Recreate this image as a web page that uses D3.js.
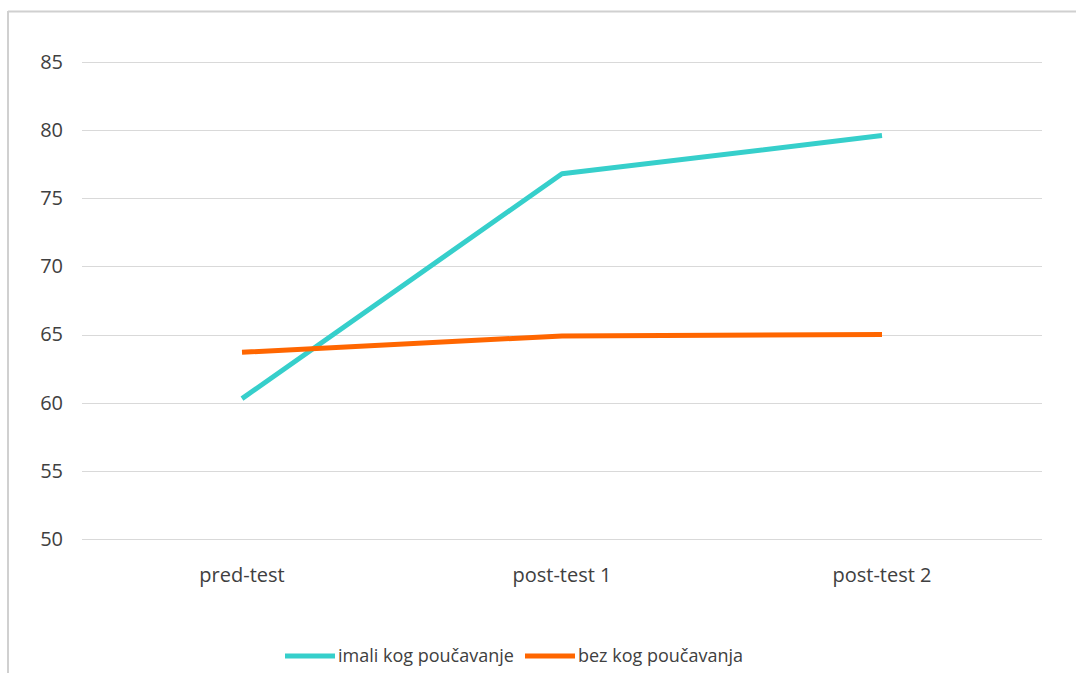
<!DOCTYPE html>
<html>
<head>
<meta charset="utf-8">
<script src="https://cdn.jsdelivr.net/npm/d3@7"></script>
<style>
  html, body { margin: 0; padding: 0; background: #fff; }
  svg { display: block; }
  text { font-family: "Open Sans", "Noto Sans", sans-serif; fill: #404040; }
</style>
</head>
<body>
<svg id="chart" width="1076" height="673"></svg>
<script>
const categories = ["pred-test", "post-test 1", "post-test 2"];
const imaliValues = [60.3, 76.8, 79.6];
const bezValues = [63.7, 64.9, 65.0];
const yTicks = [50, 55, 60, 65, 70, 75, 80, 85];
const seriesNames = ["imali kog poučavanje", "bez kog poučavanja"];
const seriesColors = ["#36CFCB", "#FF6600"];

(function () {
const series = [
  { name: seriesNames[0], values: imaliValues, color: seriesColors[0] },
  { name: seriesNames[1], values: bezValues, color: seriesColors[1] }
];

const svg = d3.select("#chart");
const pLeft = 82, pRight = 1042, pTop = 62, pBottom = 539;

// chart border (left and top visible)
svg.append("line").attr("x1", 8).attr("x2", 8).attr("y1", 11).attr("y2", 673)
  .attr("stroke", "#d0d0d0").attr("stroke-width", 2);
svg.append("line").attr("x1", 8).attr("x2", 1076).attr("y1", 11.5).attr("y2", 11.5)
  .attr("stroke", "#d0d0d0").attr("stroke-width", 2);

const x = d3.scaleBand().domain(categories).range([pLeft, pRight]);
const y = d3.scaleLinear().domain([50, 85]).range([pBottom, pTop]);

// gridlines
svg.append("g").selectAll("line").data(yTicks).join("line")
  .attr("x1", pLeft).attr("x2", pRight)
  .attr("y1", d => Math.round(y(d)) + 0.5).attr("y2", d => Math.round(y(d)) + 0.5)
  .attr("stroke", "#d9d9d9").attr("stroke-width", 1);

// y axis labels
const yAxis = d3.axisLeft(y).tickValues(yTicks).tickSize(0).tickPadding(0);
const gy = svg.append("g").attr("transform", `translate(63,0)`).call(yAxis);
gy.select(".domain").remove();
gy.selectAll("text").style("font-size", "20px").attr("fill", "#3a3a3a")
  .style("font-family", '"Open Sans", "Noto Sans", sans-serif');

// x axis labels
const xAxis = d3.axisBottom(x).tickSize(0).tickPadding(0);
const gx = svg.append("g").attr("transform", `translate(0,${pBottom + 29})`).call(xAxis);
gx.select(".domain").remove();
gx.selectAll("text").style("font-size", "20px").attr("fill", "#3a3a3a")
  .style("font-family", '"Open Sans", "Noto Sans", sans-serif');

// lines
const line = d3.line()
  .x((d, i) => x(categories[i]) + x.bandwidth() / 2)
  .y(d => y(d));

svg.append("g").selectAll("path").data(series).join("path")
  .attr("d", d => line(d.values))
  .attr("fill", "none")
  .attr("stroke", d => d.color)
  .attr("stroke-width", 5)
  .attr("stroke-linejoin", "round");

// legend
const legend = svg.append("g").attr("transform", "translate(0,656)");
const legendX = [285, 525];
series.forEach((s, i) => {
  const g = legend.append("g").attr("transform", `translate(${legendX[i]},0)`);
  g.append("line").attr("x1", 0).attr("x2", 50).attr("y1", 0).attr("y2", 0)
    .attr("stroke", s.color).attr("stroke-width", 5);
  g.append("text").attr("x", 53).attr("y", 0).attr("dy", "0.35em")
    .attr("fill", "#3a3a3a")
    .style("font-size", "18px").text(s.name);
});
})();
</script>
</body>
</html>
